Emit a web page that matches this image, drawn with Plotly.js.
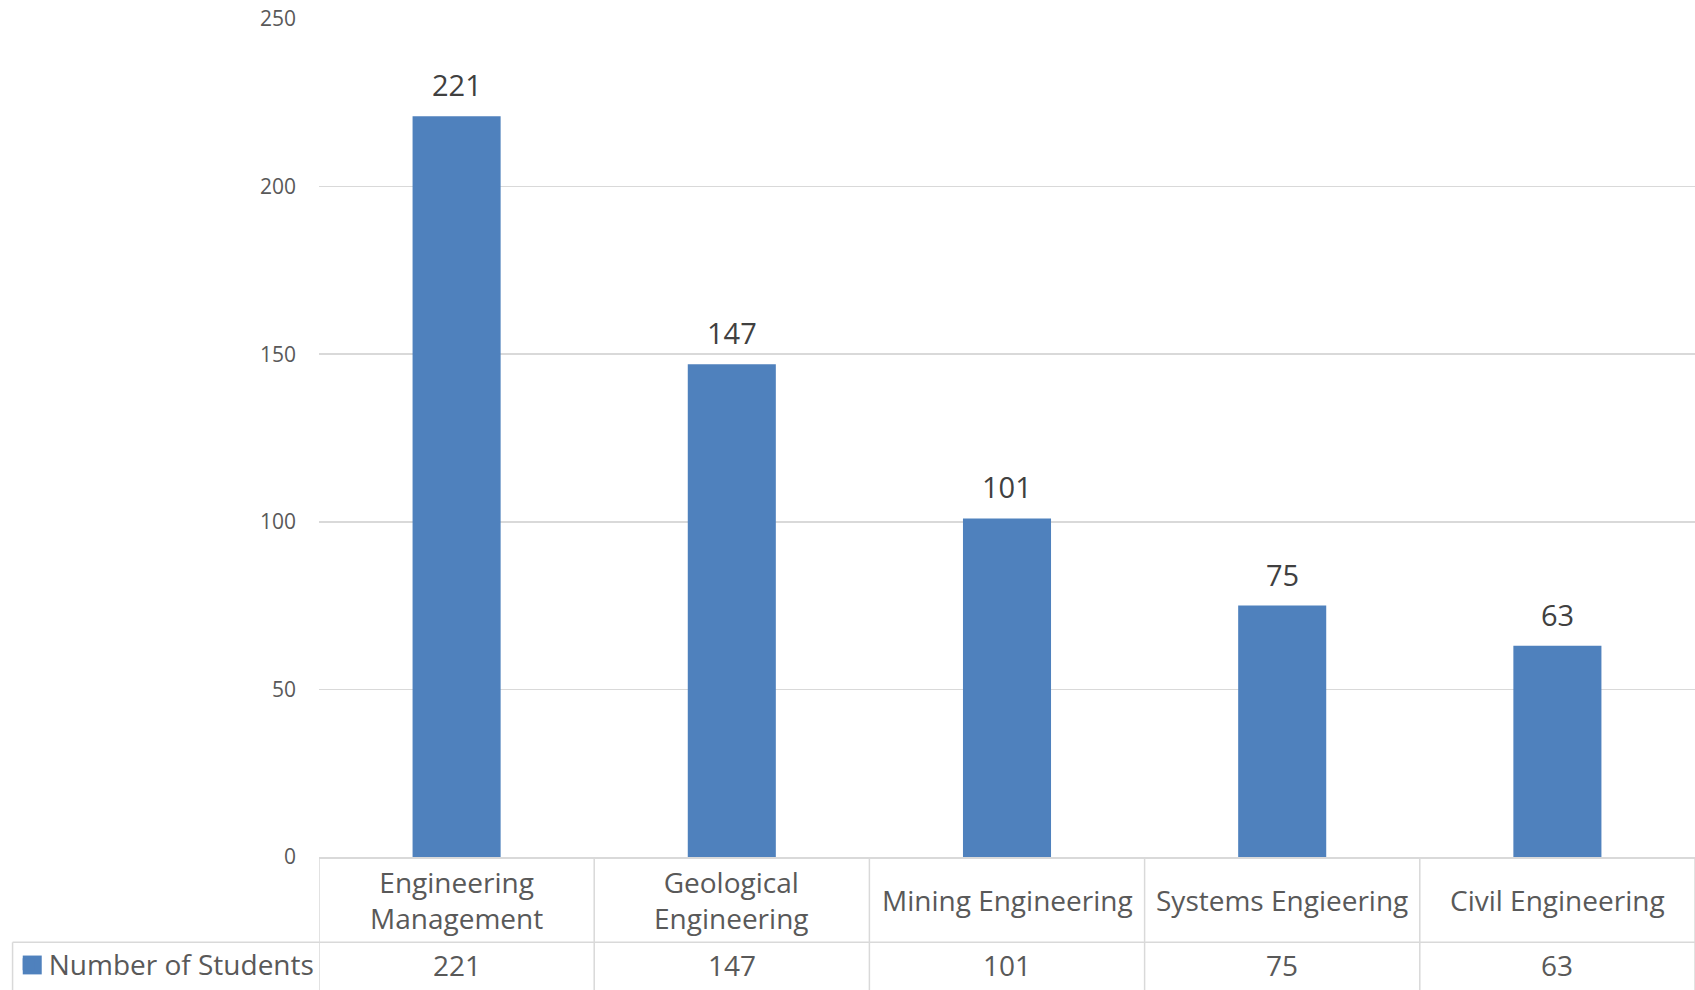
<!DOCTYPE html>
<html>
<head>
<meta charset="utf-8">
<script src="https://cdn.plot.ly/plotly-3.0.1.min.js"></script>
<style>html,body{margin:0;padding:0;background:#fff;}#chart{width:1695px;height:990px;}</style>
</head>
<body>
<div id="chart"></div>
<script>
const categories = ["Engineering<br>Management", "Geological<br>Engineering", "Mining Engineering", "Systems Engieering", "Civil Engineering"];
const students = [221, 147, 101, 75, 63];
const seriesName = "Number of Students";
const yTicks = [0, 50, 100, 150, 200, 250];

const barColor = "#4f81bd";
const gridColor = "#d9d9d9";
const textColor = "#595959";
const fontFamily = "'Open Sans', 'DejaVu Sans', sans-serif";

const idx = categories.map((c, i) => i);

const trace = {
  type: "bar",
  x: idx,
  y: students,
  name: seriesName,
  width: 0.32,
  marker: {color: barColor},
  hoverinfo: "y",
  showlegend: true
};

// table geometry (paper units)
const rowSplit = -0.1018;
const tableBottom = -0.16;
const legendLeft = -0.2227;
const catRowY = -0.0518;
const valRowY = -0.1283;

const shapes = [];
// vertical lines of the data table
for (let i = 0; i <= categories.length; i++) {
  shapes.push({type: "line", xref: "x", yref: "paper", x0: i - 0.5, x1: i - 0.5, y0: 0, y1: tableBottom,
    line: {color: gridColor, width: 1.5}, layer: "below"});
}
// horizontal line between category row and series row
shapes.push({type: "line", xref: "paper", yref: "paper", x0: legendLeft, x1: 1, y0: rowSplit, y1: rowSplit,
  line: {color: gridColor, width: 1.5}});
// left border of series name cell
shapes.push({type: "line", xref: "paper", yref: "paper", x0: legendLeft, x1: legendLeft, y0: rowSplit, y1: tableBottom,
  line: {color: gridColor, width: 1.5}});
// legend key (larger square, as in the data table)
shapes.push({type: "rect", xref: "paper", yref: "paper", x0: -0.2153, x1: -0.2015, y0: -0.1401, y1: -0.1176,
  line: {width: 0}, fillcolor: barColor, layer: "above"});

const annotations = [];
categories.forEach((c, i) => {
  // data label above bar
  annotations.push({x: i, y: students[i], xref: "x", yref: "y", text: String(students[i]),
    showarrow: false, yanchor: "bottom", yshift: 10,
    font: {family: fontFamily, size: 29, color: "#404040"}});
  // category cell
  annotations.push({x: i, y: catRowY, xref: "x", yref: "paper", text: c,
    showarrow: false, yanchor: "middle", xanchor: "center",
    font: {family: fontFamily, size: 28, color: textColor}});
  // value cell
  annotations.push({x: i, y: valRowY, xref: "x", yref: "paper", text: String(students[i]),
    showarrow: false, yanchor: "middle", xanchor: "center",
    font: {family: fontFamily, size: 28, color: textColor}});
});

const layout = {
  width: 1695,
  height: 990,
  margin: {l: 319, r: 0, t: 19, b: 129, pad: 0},
  paper_bgcolor: "#ffffff",
  plot_bgcolor: "#ffffff",
  font: {family: fontFamily, color: textColor},
  bargap: 0.68,
  xaxis: {
    type: "linear",
    range: [-0.5, categories.length - 0.5],
    showticklabels: false,
    showgrid: false,
    zeroline: false,
    showline: true,
    linecolor: gridColor,
    linewidth: 1.5,
    ticks: "",
    fixedrange: true
  },
  yaxis: {
    range: [0, 250],
    tickvals: yTicks,
    ticktext: yTicks.map(String),
    showgrid: true,
    gridcolor: gridColor,
    gridwidth: 1.5,
    zeroline: false,
    showline: false,
    ticks: "",
    ticklabelstandoff: 22,
    tickfont: {family: fontFamily, size: 21, color: textColor},
    fixedrange: true
  },
  showlegend: true,
  legend: {
    x: -0.2255, y: valRowY, xanchor: "left", yanchor: "middle",
    xref: "paper", yref: "paper",
    bgcolor: "rgba(0,0,0,0)",
    borderwidth: 0,
    itemwidth: 30,
    font: {family: fontFamily, size: 28, color: textColor}
  },
  shapes: shapes,
  annotations: annotations
};

Plotly.newPlot("chart", [trace], layout, {displayModeBar: false, staticPlot: true});
</script>
</body>
</html>
